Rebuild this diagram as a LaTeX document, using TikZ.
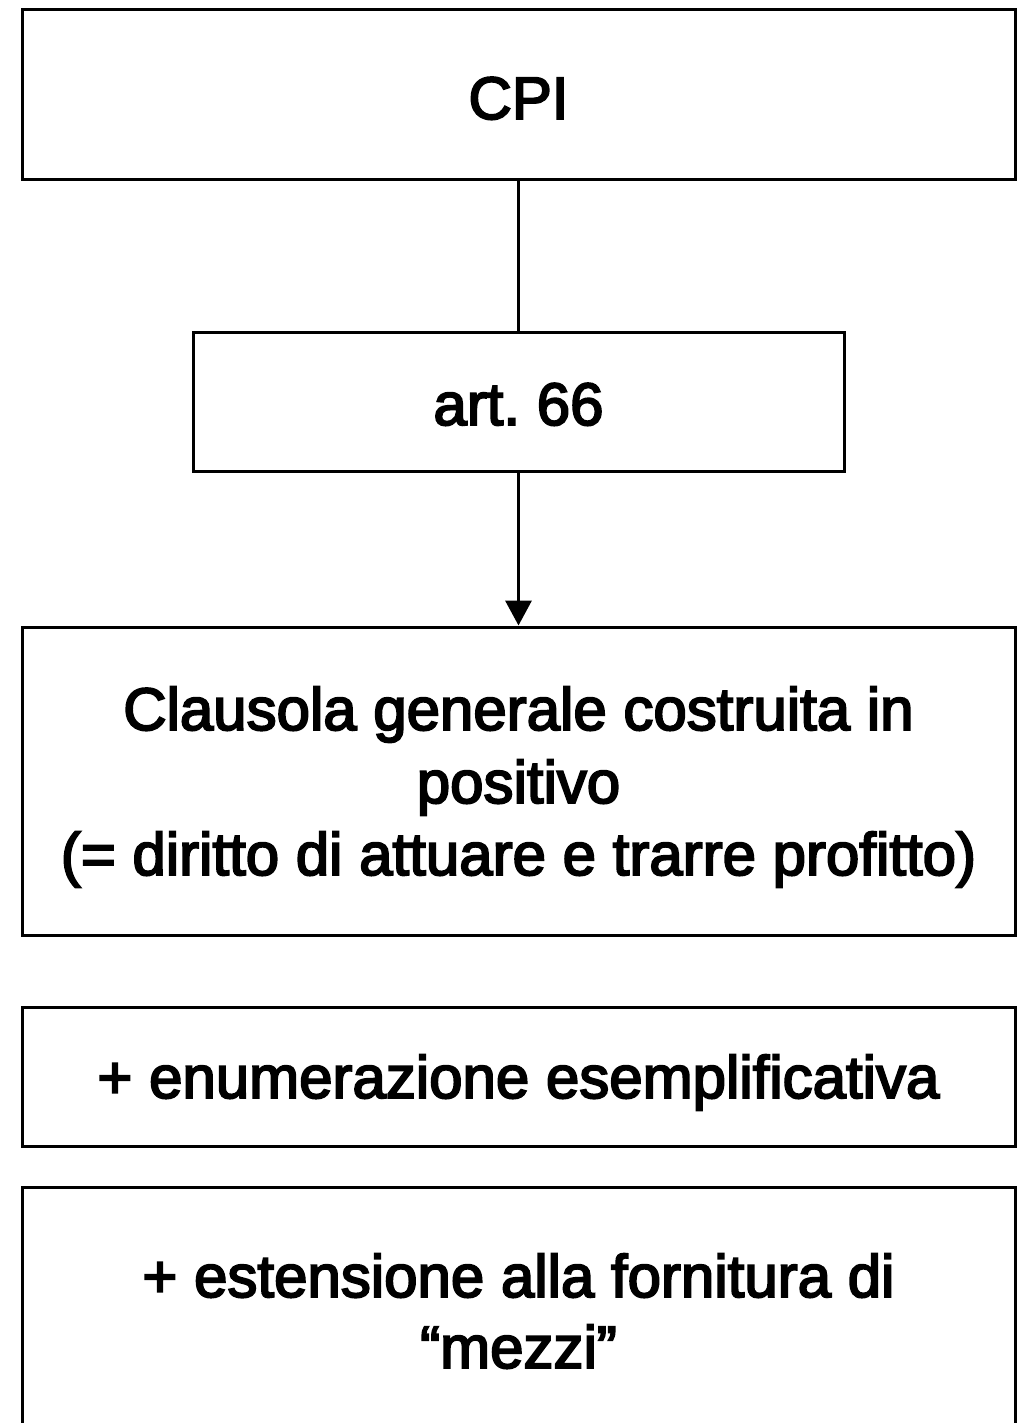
\documentclass[tikz,border=0pt]{standalone}
\usepackage{fontspec}
\setmainfont{Liberation Sans}[AutoFakeBold=3.2]
\usetikzlibrary{arrows.meta}
\frenchspacing
\begin{document}
\begin{tikzpicture}[x=1pt,y=-1pt,
  box/.style={draw=black, line width=3pt, inner sep=0pt, minimum width=993pt},
  txt/.style={anchor=base, inner sep=0pt, font=\fontsize{60}{72}\selectfont\bfseries},
  conn/.style={line width=3.5pt}]
\useasboundingbox (0,0) rectangle (1022,1423);
\clip (0,0) rectangle (1022,1423);
% boxes
\node[box, minimum height=170pt] (cpi) at (518.5,95) {};
\node[box, minimum width=651pt, minimum height=139pt] (art) at (518.5,401.5) {};
\node[box, minimum height=308pt] (claus) at (518.5,781) {};
\node[box, minimum height=139pt] (enum) at (518.5,1076.5) {};
\node[box, minimum height=253pt] (est) at (518.5,1313.5) {};
% texts
\node[txt] (tcpi) at (518.5,119) {CPI};
\node[txt] (tart) at (518.5,425) {art.\ 66};
\node[txt] (tclaus1) at (518.5,730) {Clausola generale costruita in};
\node[txt] (tclaus2) at (518.5,803) {positivo};
\node[txt] (tclaus3) at (518.5,875) {(= diritto di attuare e trarre profitto)};
\node[txt] (tenum) at (518.5,1098) {+ enumerazione esemplificativa};
\node[txt] (test1) at (518.5,1297) {+ estensione alla fornitura di};
\node[txt] (test2) at (518.5,1368) {“mezzi”};
% connectors
\draw[conn] (cpi.south) -- (art.north);
\draw[conn, -{Triangle[length=25pt,width=26pt]}] (art.south) -- (claus.north);
\end{tikzpicture}
\end{document}
